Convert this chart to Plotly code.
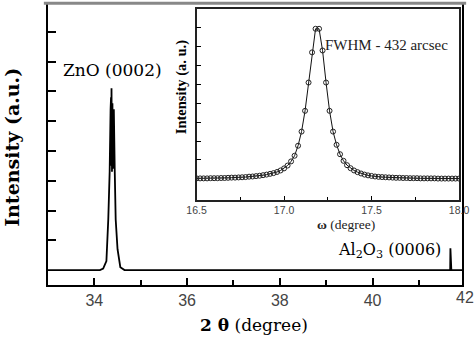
import plotly.graph_objects as go

# Main XRD 2-theta scan (degree, intensity a.u.)
main_x = [33.0, 34.12, 34.19, 34.26, 34.30, 34.33, 34.35, 34.36, 34.365, 34.37, 34.38, 34.39,
          34.40, 34.41, 34.42, 34.44, 34.46, 34.50, 34.56, 34.65,
          41.66, 41.675, 41.68, 41.685, 41.70, 41.93]
main_y = [0.0, 0.0, 0.05, 0.3, 1.7, 3.3, 5.4, 5.8, 3.5, 6.1, 3.3, 5.6,
          3.4, 5.2, 5.4, 3.3, 1.7, 0.7, 0.1, 0.0,
          0.0, 0.0, 0.73, 0.0, 0.0, 0.0]

# Inset rocking curve (omega, intensity a.u.)
inset_x = [16.50, 16.52, 16.54, 16.56, 16.58, 16.60, 16.62, 16.64, 16.66, 16.68,
           16.70, 16.72, 16.74, 16.76, 16.78, 16.80, 16.82, 16.84, 16.86, 16.88,
           16.90, 16.92, 16.94, 16.96, 16.98, 17.00, 17.02, 17.04, 17.06, 17.08,
           17.10, 17.12, 17.14, 17.16, 17.18, 17.20, 17.22, 17.24, 17.26, 17.28,
           17.30, 17.32, 17.34, 17.36, 17.38, 17.40, 17.42, 17.44, 17.46, 17.48,
           17.50, 17.52, 17.54, 17.56, 17.58, 17.60, 17.62, 17.64, 17.66, 17.68,
           17.70, 17.72, 17.74, 17.76, 17.78, 17.80, 17.82, 17.84, 17.86, 17.88,
           17.90, 17.92, 17.94, 17.96, 17.98, 18.00]
inset_y = [0.02, 0.02, 0.02, 0.02, 0.03, 0.03, 0.03, 0.04, 0.04, 0.05,
           0.06, 0.06, 0.07, 0.08, 0.09, 0.11, 0.12, 0.14, 0.16, 0.19,
           0.22, 0.26, 0.30, 0.36, 0.44, 0.55, 0.70, 0.92, 1.22, 1.75,
           2.5, 3.6, 5.1, 6.7, 7.95, 7.95, 6.8, 5.1, 3.6, 2.5,
           1.8, 1.3, 0.95, 0.72, 0.56, 0.44, 0.35, 0.28, 0.22, 0.18,
           0.15, 0.12, 0.10, 0.09, 0.08, 0.07, 0.06, 0.05, 0.05, 0.04,
           0.04, 0.03, 0.03, 0.03, 0.02, 0.02, 0.02, 0.02, 0.02, 0.01,
           0.01, 0.01, 0.01, 0.01, 0.01, 0.01]

main_major = [34, 36, 38, 40]
main_major_text = ["34", "36", "38", "40"]
main_minor = [35, 37, 39, 41]
inset_major = [16.5, 17.0, 17.5, 18.0]
inset_major_text = ["16.5", "17.0", "17.5", "18.0"]
inset_minor = [16.75, 17.25, 17.75]
y_ticks = [1, 2, 3, 4, 5, 6, 7, 8]

SERIF = "Liberation Serif, Times New Roman, serif"
WIDE_SERIF = "DejaVu Serif, serif"
SANS = "Liberation Sans, Arial, sans-serif"

fig = go.Figure()
fig.add_trace(go.Scatter(x=main_x, y=main_y, mode="lines",
                         line=dict(color="black", width=1.8), xaxis="x", yaxis="y",
                         showlegend=False))
fig.add_trace(go.Scatter(x=inset_x, y=inset_y, mode="lines+markers",
                         line=dict(color="#111", width=1),
                         marker=dict(symbol="circle-open", size=5, color="#222",
                                     line=dict(width=1, color="#222")),
                         xaxis="x2", yaxis="y2", showlegend=False))

fig.update_layout(
    width=474, height=339,
    margin=dict(l=48, r=8, t=2, b=54),
    paper_bgcolor="white", plot_bgcolor="white",
    xaxis=dict(domain=[0, 1], range=[33, 41.93], tickvals=main_major, ticktext=main_major_text,
               ticks="inside", ticklen=7, tickwidth=2, tickcolor="black",
               minor=dict(tickvals=main_minor, ticks="inside", ticklen=5, tickwidth=2, tickcolor="black"),
               showline=True, mirror=True, linewidth=2, linecolor="black",
               showgrid=False, zeroline=False,
               tickfont=dict(family=SANS, size=16, color="#444")),
    yaxis=dict(domain=[0, 1], range=[-0.5, 8.93], tickvals=y_ticks, showticklabels=False,
               ticks="inside", ticklen=8, tickwidth=1.5, tickcolor="black",
               showline=True, mirror=True, linewidth=2, linecolor="black",
               showgrid=False, zeroline=False),
    xaxis2=dict(domain=[0.3589, 0.9928], anchor="y2", range=[16.5, 18.0],
                tickvals=inset_major, ticktext=inset_major_text,
                ticks="inside", ticklen=4, tickwidth=1, tickcolor="black",
                minor=dict(tickvals=inset_minor, ticks="inside", ticklen=3, tickwidth=1, tickcolor="black"),
                showline=True, mirror=True, linewidth=1.5, linecolor="#222",
                showgrid=False, zeroline=False,
                tickfont=dict(family=SANS, size=10.5, color="#444")),
    yaxis2=dict(domain=[0.3039, 0.9823], anchor="x2", range=[-1.105, 9.0],
                tickvals=y_ticks, showticklabels=False,
                ticks="inside", ticklen=5, tickwidth=1, tickcolor="black",
                showline=True, mirror=True, linewidth=1.5, linecolor="#222",
                showgrid=False, zeroline=False),
)

ann = [
    dict(text="<b>Intensity (a.u.)</b>", xref="paper", yref="paper", x=-0.0861, y=0.4894,
         textangle=-90, font=dict(family=WIDE_SERIF, size=19, color="black")),
    dict(text="<b>2 θ</b> (degree)", xref="paper", yref="paper", x=0.4976, y=-0.1413,
         font=dict(family=WIDE_SERIF, size=17, color="black")),
    dict(text="42", xref="paper", yref="paper", x=1.0084, y=-0.046,
         font=dict(family=SANS, size=16, color="#444")),
    dict(text="ZnO (0002)", xref="x", yref="y", x=34.39, y=6.73,
         font=dict(family=WIDE_SERIF, size=17, color="black")),
    dict(text="Al<sub>2</sub>O<sub>3</sub> (0006)", xref="x", yref="y", x=41.52, y=0.67,
         xanchor="right", font=dict(family=WIDE_SERIF, size=16, color="black")),
    dict(text="FWHM - 432 arcsec", xref="x2", yref="y2", x=17.587, y=7.1,
         font=dict(family=SERIF, size=15, color="#222")),
    dict(text="<b>Intensity (a. u.)</b>", xref="paper", yref="paper", x=0.323, y=0.703,
         textangle=-90, font=dict(family=SERIF, size=14.5, color="black")),
    dict(text="<b>ω</b> (degree)", xref="paper", yref="paper", x=0.720, y=0.2155,
         font=dict(family=SERIF, size=13.5, color="#222")),
]
for a in ann:
    a.setdefault("xanchor", "center")
    a.update(showarrow=False, yanchor="middle")
fig.update_layout(annotations=ann)

fig.add_shape(type="line", xref="paper", yref="paper", x0=-0.01, x1=1.01, y0=1.003, y1=1.003,
              line=dict(color="#888", width=3), layer="above")

fig.write_html("out.html")
